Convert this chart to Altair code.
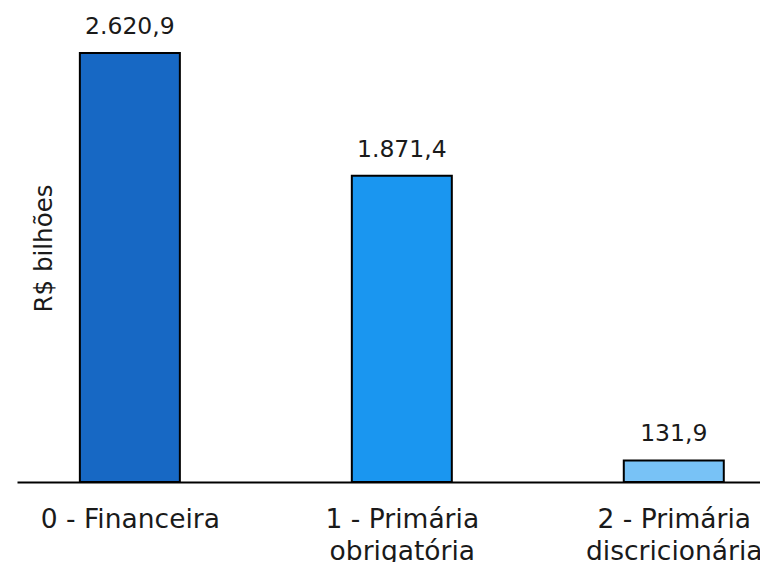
import altair as alt
import pandas as pd

categories = ["0 - Financeira", "1 - Primária obrigatória", "2 - Primária discricionária"]
positions = [0, 1, 2]
values = [2620.9, 1871.4, 131.9]
value_labels = ["2.620,9", "1.871,4", "131,9"]
colors = ["#1768C4", "#1A96F0", "#78C2F6"]

df = pd.DataFrame({
    "pos": positions,
    "cat": categories,
    "valor": values,
    "rotulo": value_labels,
})

label_expr = ("datum.value == 0 ? ['0 - Financeira'] : "
              "datum.value == 1 ? ['1 - Primária', 'obrigatória'] : "
              "['2 - Primária', 'discricionária']")

x_scale = alt.Scale(domain=[-0.415, 2.317], nice=False, zero=False, padding=0)
y_scale = alt.Scale(domain=[0, 2896], nice=False)

x_enc = alt.X(
    "pos:Q",
    scale=x_scale,
    axis=alt.Axis(
        values=positions, labelExpr=label_expr, title=None, grid=False,
        ticks=False, domainColor="black", domainWidth=2, domainOpacity=1,
        labelFont="DejaVu Sans", labelFontSize=26.5, labelColor="#1a1a1a",
        labelPadding=24, labelLineHeight=32, labelBaseline="top",
        labelOverlap=False, labelBound=False, labelFlush=False,
    ),
)

y_enc = alt.Y("valor:Q", scale=y_scale, axis=alt.Axis(
    title="R$ bilhões", labels=False, ticks=False, domain=False, grid=False,
    titleFont="DejaVu Sans", titleFontSize=24.5, titleFontWeight="normal",
    titleColor="#1a1a1a", titleX=27, titleY=240, titleBaseline="middle",
    titleAngle=-90, titleAlign="center"))

base = alt.Chart(df).encode(x=x_enc, y=y_enc)

bars = base.mark_bar(width=100, stroke="black", strokeWidth=2).encode(
    color=alt.Color("cat:N", scale=alt.Scale(domain=categories, range=colors), legend=None),
)

texts = base.mark_text(dy=-14, baseline="bottom", font="DejaVu Sans", fontSize=23.5,
                       color="#1a1a1a").encode(
    text="rotulo:N",
)

chart = (bars + texts).properties(
    width=743, height=474,
    padding={"left": 9, "top": 0, "right": 0, "bottom": 80},
    autosize=alt.AutoSizeParams(type="none"),
    background="white",
).configure_view(stroke=None)

chart.save("out.html", embed_options={"renderer": "svg", "actions": False})
